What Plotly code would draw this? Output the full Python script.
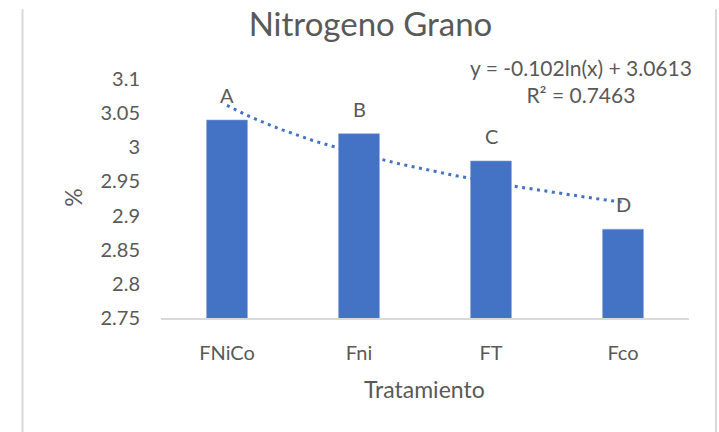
import numpy as np
import plotly.graph_objects as go

categories = ["FNiCo", "Fni", "FT", "Fco"]
values = [3.04, 3.02, 2.98, 2.88]
letters = ["A", "B", "C", "D"]
y_ticks = [2.75, 2.8, 2.85, 2.9, 2.95, 3.0, 3.05, 3.1]
y_tick_labels = ["2.75", "2.8", "2.85", "2.9", "2.95", "3", "3.05", "3.1"]

# logarithmic trendline fitted from the data (as Excel does)
xs = np.arange(1, len(values) + 1)
slope, intercept = np.polyfit(np.log(xs), values, 1)
pred = slope * np.log(xs) + intercept
ss_res = np.sum((np.array(values) - pred) ** 2)
ss_tot = np.sum((np.array(values) - np.mean(values)) ** 2)
r2 = 1 - ss_res / ss_tot
x_fine = np.linspace(1, len(values), 80)
y_fine = slope * np.log(x_fine) + intercept

FONT = "Lato, 'Open Sans', sans-serif"
GRAY = "#595959"
BLUE = "#4472C4"

# plot area in pixels
L, R, T, B = 161, 689, 79, 318.5
W, H = 719, 432
pw, ph = R - L, B - T


def px_x(p):
    return (p - L) / pw


def px_y(p):
    return (B - p) / ph


fig = go.Figure()
fig.add_trace(go.Bar(
    x=list(range(len(categories))), y=values,
    base=0, width=0.31,
    marker=dict(color=BLUE, line=dict(color="#8FAADC", width=0.6)),
    showlegend=False,
))
fig.add_trace(go.Scatter(
    x=x_fine - 1, y=y_fine, mode="lines",
    line=dict(color=BLUE, width=3, dash="3px,4.5px"),
    showlegend=False, hoverinfo="skip",
))

for i, (v, lab) in enumerate(zip(values, letters)):
    fig.add_annotation(x=i, y=v, text=lab, showarrow=False,
                       yshift=25, yanchor="middle",
                       font=dict(family=FONT, size=20, color=GRAY))

eq = f"y = {slope:.3f}ln(x) + {intercept:.4f}<br>R² = {r2:.4f}"
fig.add_annotation(xref="paper", yref="paper", x=px_x(581), y=px_y(81),
                   xanchor="center", yanchor="middle",
                   text=eq, showarrow=False, align="center",
                   font=dict(family=FONT, size=21, color=GRAY))

# axis titles
fig.add_annotation(xref="paper", yref="paper", x=px_x(424), y=px_y(390),
                   xanchor="center", yanchor="middle", text="Tratamiento",
                   showarrow=False, font=dict(family=FONT, size=23, color=GRAY))
fig.add_annotation(xref="paper", yref="paper", x=px_x(73), y=px_y(198),
                   xanchor="center", yanchor="middle", text="%", textangle=-90,
                   showarrow=False, font=dict(family=FONT, size=23, color=GRAY))

# chart-area border edges (cropped)
for p in [22.5, 716]:
    fig.add_shape(type="line", xref="paper", yref="paper",
                  x0=px_x(p), x1=px_x(p), y0=px_y(9), y1=px_y(445),
                  line=dict(color="#D9D9D9", width=2))

fig.update_layout(
    width=W, height=H,
    margin=dict(l=L, r=W - R, t=T, b=H - B, pad=0),
    paper_bgcolor="white", plot_bgcolor="white",
    title=dict(text="Nitrogeno Grano", x=370.5 / W, xanchor="center",
               y=1 - 24 / H, yanchor="middle",
               font=dict(family=FONT, size=33, color=GRAY)),
    xaxis=dict(
        range=[-0.5, 3.5],
        tickmode="array", tickvals=list(range(len(categories))), ticktext=categories,
        showgrid=False, zeroline=False,
        showline=True, linecolor="#D9D9D9", linewidth=1.5,
        ticks="", ticklabelstandoff=16,
        tickfont=dict(family=FONT, size=20, color=GRAY),
    ),
    yaxis=dict(
        range=[2.75, 3.1],
        tickmode="array", tickvals=y_ticks, ticktext=y_tick_labels,
        showgrid=False, zeroline=False, showline=False,
        ticks="", ticklabelstandoff=20,
        tickfont=dict(family=FONT, size=20, color=GRAY),
    ),
)

fig.write_html("out.html", config={"displayModeBar": False},
               post_script="document.body.style.margin='0px';")
